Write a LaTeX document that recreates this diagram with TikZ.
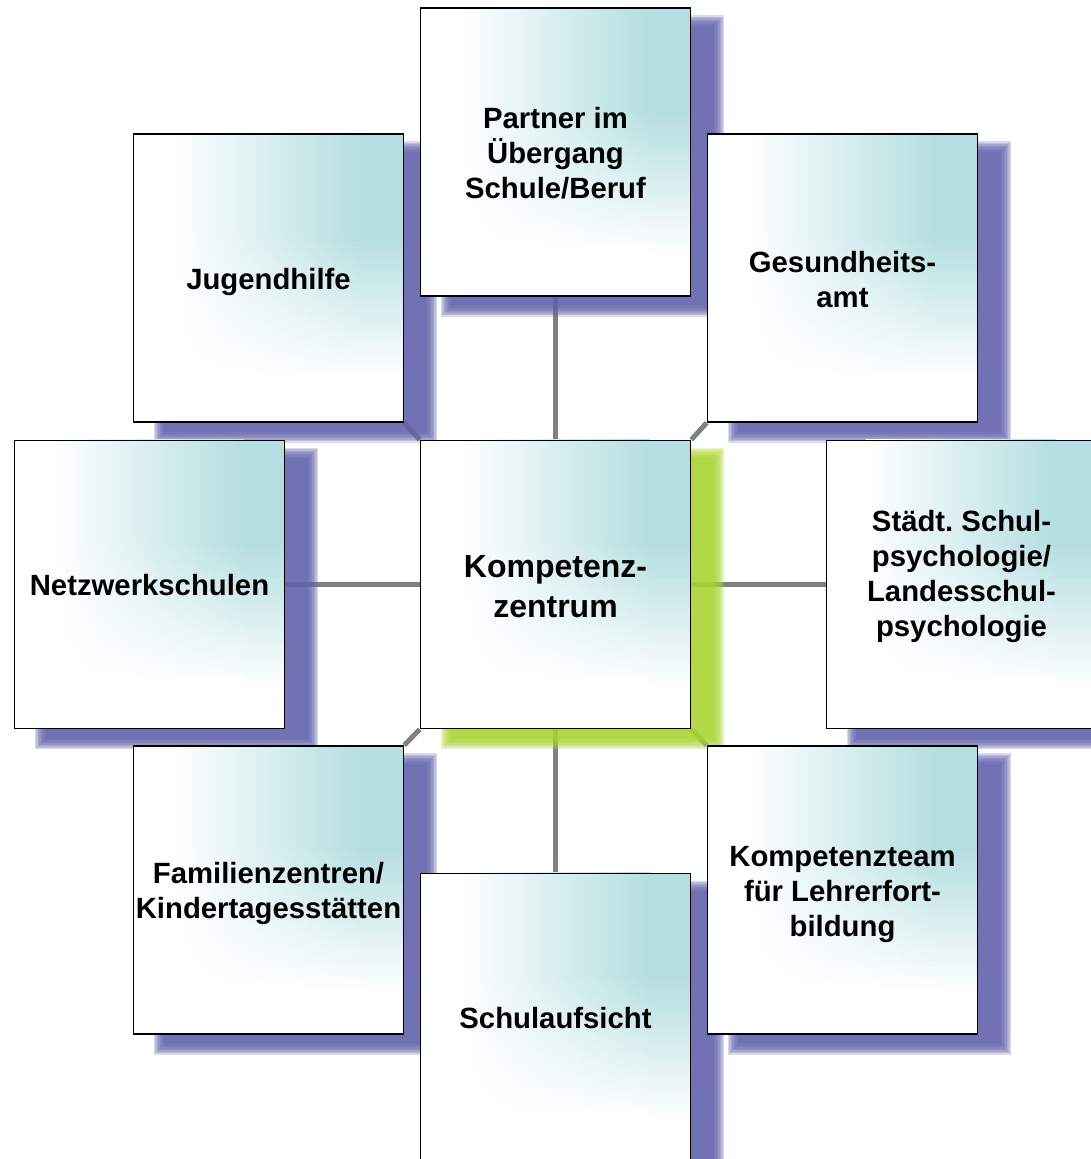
\documentclass[tikz,border=0pt]{standalone}
\usepackage{fontspec}
\setmainfont{Liberation Sans}
\definecolor{boxteal}{RGB}{180,222,225}
\definecolor{shpurple}{RGB}{98,98,172}
\definecolor{shgreen}{RGB}{170,212,52}
\definecolor{linegray}{RGB}{128,128,128}
\pgfdeclarelayer{bg}
\pgfdeclarelayer{mid}
\pgfsetlayers{bg,mid,main}
\newcommand{\mkshadow}[4]{%
  \foreach \d in {6,4.5,3,1.5,0,-1.5,-3,-4.5}{%
    \fill[#2, opacity=0.25] ([shift={(#3-\d,#4-\d)}]#1.north west) rectangle ([shift={(#3+\d,#4+\d)}]#1.south east);
  }}
\newcommand{\mkfill}[1]{%
  \fill[white] (#1.north west) rectangle (#1.south east);
  \foreach \i in {0,...,47}{%
    \pgfmathsetmacro\fy{(\i+0.5)/48}%
    \pgfmathsetmacro\kk{100*min(1,max(0,(0.86-\fy)/0.5))}%
    \pgfmathsetmacro\ya{\i*6}%
    \pgfmathsetmacro\yb{\i*6+6.5}%
    \shade[left color=white, right color=boxteal!\kk] ([shift={(40,\ya)}]#1.north west) rectangle ([shift={(230,\yb)}]#1.north west);
    \fill[boxteal!\kk] ([shift={(229.5,\ya)}]#1.north west) rectangle ([shift={(270,\yb)}]#1.north west);
  }
}
\newcommand{\ctext}[2]{\raisebox{#1}[0pt][0pt]{\vbox to 0pt{\vss\hbox{\begin{tabular}{@{}c@{}}#2\end{tabular}}\vss}}}
\begin{document}
\begin{tikzpicture}[x=1pt,y=-1pt,
  boxnode/.style={minimum width=270pt, minimum height=288pt, inner sep=0pt,
    draw=black, line width=1.6pt,
    font=\fontsize{29.3pt}{35pt}\selectfont\bfseries},
  centerfont/.style={font=\fontsize{32pt}{40pt}\selectfont\bfseries},
  conn/.style={draw=linegray, line width=5pt}]
\useasboundingbox (0,0) rectangle (1090,1159);
\node[boxnode, centerfont] (kz) at (555.5,584.5) {\ctext{-4.5pt}{Kompetenz-\\zentrum}};
\node[boxnode] (top) at (555.5,152) {\ctext{-4.5pt}{Partner im\\Übergang\\Schule/Beruf}};
\node[boxnode] (jug) at (268.5,278) {\ctext{-4.5pt}{Jugendhilfe}};
\node[boxnode] (ges) at (842.5,278) {\ctext{-5pt}{Gesundheits-\\amt}};
\node[boxnode] (netz) at (149.5,584.5) {\ctext{-4pt}{Netzwerkschulen}};
\node[boxnode] (stadt) at (961.5,584.5) {\ctext{8pt}{Städt.\ Schul-\\psychologie/\\Landesschul-\\psychologie}};
\node[boxnode] (fam) at (268.5,890) {\ctext{-4pt}{Familienzentren/\\Kindertagesstätten}};
\node[boxnode] (kteam) at (842.5,890) {\ctext{-4.5pt}{Kompetenzteam\\für Lehrerfort-\\bildung}};
\node[boxnode] (schul) at (555.5,1017.5) {\ctext{-4pt}{Schulaufsicht}};
\begin{pgfonlayer}{mid}
  \mkfill{kz}\mkfill{top}\mkfill{jug}\mkfill{ges}\mkfill{netz}
  \mkfill{stadt}\mkfill{fam}\mkfill{kteam}\mkfill{schul}
\end{pgfonlayer}
\begin{pgfonlayer}{bg}
  \draw[conn] (kz.north) -- (top.south);
  \draw[conn] (kz.south) -- (schul.north);
  \draw[conn] (kz.west) -- (netz.east);
  \draw[conn] (kz.east) -- (stadt.west);
  \draw[conn] (kz.north west) -- (jug.south east);
  \draw[conn] (kz.north east) -- (ges.south west);
  \draw[conn] (kz.south west) -- (fam.north east);
  \draw[conn] (kz.south east) -- (kteam.north west);
  \mkshadow{top}{shpurple}{27}{14}
  \mkshadow{jug}{shpurple}{27}{14}
  \mkshadow{ges}{shpurple}{27}{14}
  \mkshadow{netz}{shpurple}{27}{14}
  \mkshadow{stadt}{shpurple}{27}{14}
  \mkshadow{fam}{shpurple}{27}{14}
  \mkshadow{kteam}{shpurple}{27}{14}
  \mkshadow{schul}{shpurple}{27}{14}
  \mkshadow{kz}{shgreen}{27}{14}
\end{pgfonlayer}
\end{tikzpicture}
\end{document}
